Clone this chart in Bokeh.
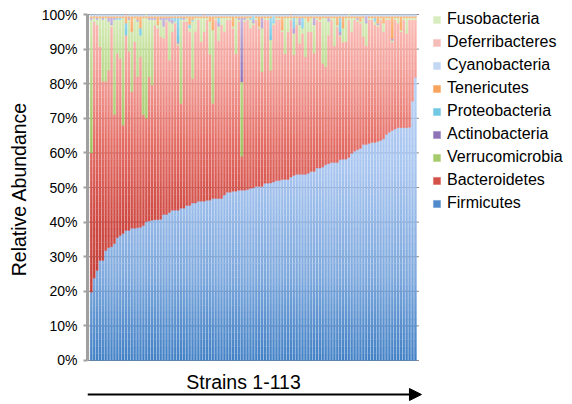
import numpy as np
from bokeh.plotting import figure
from bokeh.layouts import column
from bokeh.models import (ColumnDataSource, Legend, LegendItem, FixedTicker,
                          PrintfTickFormatter, Arrow, NormalHead, Label, Range1d)
from bokeh.embed import file_html
from bokeh.resources import INLINE

strains = list(range(1, 114))

firmicutes = [19.7, 23.8, 26.0, 28.9, 28.9, 31.8, 32.6, 32.9, 33.8, 35.5,
              36.1, 36.7, 37.6, 37.6, 38.2, 38.2, 38.4, 38.5, 39.0, 40.1,
              40.3, 40.5, 40.7, 40.7, 40.8, 42.2, 42.2, 42.8, 43.4, 43.4,
              43.4, 44.0, 44.0, 44.8, 44.8, 45.5, 45.5, 46.0, 46.0, 46.0,
              46.3, 46.3, 46.8, 46.8, 46.8, 46.8, 47.8, 48.6, 48.6, 48.9,
              48.9, 49.2, 49.2, 49.2, 49.4, 49.7, 49.9, 50.3, 50.3, 50.3,
              51.2, 51.2, 51.3, 51.6, 52.0, 52.0, 52.3, 52.3, 52.3, 53.0,
              53.5, 53.8, 53.8, 53.8, 53.8, 54.1, 54.6, 54.6, 55.6, 55.6,
              55.9, 56.6, 56.9, 57.2, 57.2, 57.2, 58.0, 58.2, 58.2, 58.7,
              59.9, 60.5, 60.9, 61.3, 62.4, 62.4, 62.7, 63.0, 63.0, 63.3,
              63.6, 64.1, 65.3, 66.0, 66.5, 66.9, 67.3, 67.3, 67.3, 67.3,
              67.4, 74.9, 81.8]

bacteroidetes = [40.3, 74.2, 71.0, 61.8, 51.8, 48.9, 51.3, 63.6, 37.3, 53.2,
                 51.2, 31.3, 56.4, 51.8, 39.5, 53.9, 43.6, 49.3, 32.0, 29.9,
                 41.7, 39.1, 56.2, 55.3, 52.8, 50.9, 55.8, 44.0, 51.6, 54.1,
                 47.7, 30.3, 54.0, 53.2, 50.3, 36.0, 49.6, 52.5, 46.1, 49.0,
                 52.2, 42.2, 27.5, 51.7, 45.7, 50.2, 47.2, 49.9, 49.9, 47.1,
                 39.7, 48.8, 9.8, 48.8, 49.1, 46.3, 47.1, 48.2, 45.7, 33.1,
                 47.3, 47.3, 32.6, 45.4, 46.5, 46.5, 42.7, 36.3, 42.7, 45.5,
                 34.8, 43.2, 37.8, 40.7, 34.0, 40.9, 40.4, 34.2, 42.9, 42.4,
                 30.0, 28.2, 37.1, 41.3, 33.7, 39.3, 35.5, 33.8, 33.9, 39.8,
                 35.1, 38.0, 37.1, 36.2, 31.2, 28.6, 35.8, 35.5, 34.0, 33.2,
                 34.9, 30.9, 33.2, 32.5, 25.5, 31.6, 30.2, 27.7, 31.2, 27.2,
                 31.1, 23.6, 16.7]

verrucomicrobia = [38.5, 1.0, 1.5, 8.3, 17.8, 18.3, 14.1, 0.5, 27.4, 9.8,
                   11.2, 31.0, 0.0, 9.1, 17.3, 6.9, 16.0, 6.2, 28.0, 29.0,
                   16.5, 18.9, 1.6, 1.0, 4.9, 3.4, 0.5, 11.2, 2.5, 0.5,
                   0.5, 24.2, 0.5, 1.0, 1.0, 16.5, 3.9, 0.5, 6.9, 4.0,
                   0.5, 9.5, 21.2, 0.5, 4.0, 2.0, 4.0, 0.5, 0.5, 0.5,
                   10.4, 0.5, 21.5, 0.5, 0.5, 2.5, 0.5, 0.5, 0.5, 12.6,
                   0.5, 0.5, 8.7, 0.5, 0.5, 0.5, 0.5, 10.4, 4.0, 0.5,
                   6.2, 2.0, 5.4, 1.5, 11.2, 3.0, 4.0, 8.2, 0.5, 0.5,
                   13.1, 14.2, 4.0, 0.5, 8.1, 0.5, 0.5, 4.0, 6.9, 0.5,
                   4.0, 0.5, 0.5, 0.5, 5.4, 6.5, 0.5, 0.5, 1.0, 0.5,
                   0.5, 2.5, 0.5, 0.5, 0.5, 0.5, 1.5, 0.5, 0.5, 4.5,
                   0.5, 0.5, 0.5]

actinobacteria = [0.5, 0.0, 0.5, 0.0, 0.5, 0.0, 1.0, 2.0, 0.5, 0.0,
                  0.0, 0.0, 0.0, 0.5, 0.0, 0.0, 0.5, 0.0, 0.0, 0.0,
                  0.5, 0.5, 0.5, 0.0, 0.5, 2.5, 0.5, 1.0, 1.0, 0.0,
                  0.4, 0.0, 0.5, 0.0, 0.0, 0.0, 0.0, 0.0, 0.0, 0.0,
                  0.0, 0.0, 0.0, 0.0, 1.0, 0.0, 0.0, 0.0, 0.0, 0.0,
                  0.0, 0.5, 18.5, 0.5, 0.0, 0.0, 1.0, 0.0, 0.0, 3.0,
                  0.0, 0.0, 0.0, 0.0, 0.0, 0.0, 0.0, 0.0, 0.0, 0.0,
                  1.5, 0.0, 2.0, 0.0, 0.0, 0.0, 0.0, 2.0, 0.0, 0.0,
                  0.0, 0.0, 1.0, 0.0, 0.0, 0.0, 1.0, 0.0, 0.0, 0.0,
                  0.0, 0.0, 0.5, 0.0, 0.0, 2.0, 0.0, 0.0, 0.0, 0.5,
                  0.0, 0.0, 0.0, 0.0, 0.5, 0.0, 0.0, 0.0, 0.0, 0.0,
                  0.0, 0.0, 0.0]

proteobacteria = [0.0, 0.0, 0.0, 0.0, 0.0, 0.0, 0.0, 0.0, 0.0, 0.5,
                  0.5, 0.0, 3.5, 0.0, 0.0, 0.0, 0.0, 2.0, 0.0, 0.0,
                  0.0, 0.0, 0.0, 0.0, 0.0, 0.0, 0.0, 0.0, 0.5, 1.0,
                  7.0, 0.5, 0.0, 0.0, 1.0, 0.5, 0.0, 0.0, 0.0, 0.0,
                  0.0, 0.0, 0.0, 0.0, 1.5, 0.0, 0.0, 0.0, 0.0, 0.0,
                  0.0, 0.0, 0.0, 0.0, 0.0, 0.5, 1.0, 0.0, 0.0, 0.0,
                  0.0, 0.0, 6.4, 2.0, 0.0, 0.0, 0.0, 0.0, 0.0, 0.0,
                  3.0, 0.0, 0.0, 3.0, 0.0, 0.0, 0.0, 0.0, 0.0, 0.0,
                  0.0, 0.0, 0.0, 0.0, 0.0, 0.0, 4.0, 0.0, 0.0, 0.0,
                  0.0, 0.0, 0.0, 0.0, 0.0, 0.0, 0.0, 0.0, 1.0, 0.0,
                  0.0, 0.0, 0.0, 0.0, 0.0, 0.0, 0.0, 0.0, 0.0, 0.0,
                  0.0, 0.0, 0.0]

tenericutes = [0.5, 0.5, 0.5, 0.5, 0.5, 0.5, 0.5, 0.5, 0.5, 0.5,
               0.5, 0.5, 2.0, 0.5, 4.5, 0.5, 1.0, 3.5, 0.5, 0.5,
               0.5, 0.5, 0.5, 2.5, 0.5, 0.5, 0.5, 0.5, 0.5, 0.5,
               0.5, 0.5, 0.5, 0.5, 2.4, 1.0, 0.5, 0.5, 0.5, 0.5,
               0.5, 1.5, 4.0, 0.5, 0.5, 0.5, 0.5, 0.5, 0.5, 3.0,
               0.5, 0.5, 0.5, 0.5, 0.5, 0.5, 0.0, 0.5, 3.0, 0.5,
               0.5, 0.5, 0.5, 0.0, 0.5, 0.5, 4.0, 0.5, 0.5, 0.5,
               0.5, 0.5, 0.5, 0.5, 0.5, 1.5, 0.5, 0.5, 0.5, 1.0,
               0.5, 0.5, 0.5, 0.5, 0.5, 2.5, 0.5, 3.5, 0.5, 0.5,
               0.5, 0.5, 0.5, 1.5, 0.5, 0.0, 0.5, 0.5, 0.5, 2.0,
               0.5, 2.0, 0.5, 0.5, 6.5, 0.5, 0.5, 4.0, 0.5, 0.5,
               0.5, 0.5, 0.5]

cyanobacteria = [0.5, 0.5, 0.5, 0.5, 0.5, 0.5, 0.5, 0.5, 0.5, 0.5,
                 0.5, 0.5, 0.3, 0.5, 0.5, 0.5, 0.5, 0.5, 0.5, 0.3,
                 0.5, 0.5, 0.5, 0.5, 0.5, 0.5, 0.5, 0.5, 0.5, 0.5,
                 0.5, 0.5, 0.5, 0.5, 0.5, 0.5, 0.5, 0.5, 0.5, 0.3,
                 0.5, 0.5, 0.5, 0.5, 0.5, 0.5, 0.5, 0.5, 0.5, 0.5,
                 0.5, 0.5, 0.5, 0.5, 0.5, 0.5, 0.5, 0.5, 0.5, 0.5,
                 0.5, 0.5, 0.5, 0.5, 0.5, 0.5, 0.5, 0.5, 0.5, 0.3,
                 0.5, 0.5, 0.5, 0.5, 0.5, 0.5, 0.5, 0.5, 0.5, 0.5,
                 0.5, 0.5, 0.5, 0.5, 0.5, 0.5, 0.5, 0.5, 0.5, 0.3,
                 0.5, 0.5, 0.5, 0.5, 0.5, 0.5, 0.5, 0.5, 0.5, 0.5,
                 0.5, 0.5, 0.5, 0.5, 0.5, 0.5, 0.5, 0.5, 0.5, 0.5,
                 0.5, 0.5, 0.5]

deferribacteres = [0.0, 0.0, 0.0, 0.0, 0.0, 0.0, 0.0, 0.0, 0.0, 0.0,
                   0.0, 0.0, 0.2, 0.0, 0.0, 0.0, 0.0, 0.0, 0.0, 0.0,
                   0.0, 0.0, 0.0, 0.0, 0.0, 0.0, 0.0, 0.0, 0.0, 0.0,
                   0.0, 0.0, 0.0, 0.0, 0.0, 0.0, 0.0, 0.0, 0.0, 0.2,
                   0.0, 0.0, 0.0, 0.0, 0.0, 0.0, 0.0, 0.0, 0.0, 0.0,
                   0.0, 0.0, 0.0, 0.0, 0.0, 0.0, 0.0, 0.0, 0.0, 0.0,
                   0.0, 0.0, 0.0, 0.0, 0.0, 0.0, 0.0, 0.0, 0.0, 0.2,
                   0.0, 0.0, 0.0, 0.0, 0.0, 0.0, 0.0, 0.0, 0.0, 0.0,
                   0.0, 0.0, 0.0, 0.0, 0.0, 0.0, 0.0, 0.0, 0.0, 0.0,
                   0.0, 0.0, 0.0, 0.0, 0.0, 0.0, 0.0, 0.0, 0.0, 0.0,
                   0.0, 0.0, 0.0, 0.0, 0.0, 0.0, 0.0, 0.0, 0.0, 0.0,
                   0.0, 0.0, 0.0]

fusobacteria = [0.0, 0.0, 0.0, 0.0, 0.0, 0.0, 0.0, 0.0, 0.0, 0.0,
                0.0, 0.0, 0.0, 0.0, 0.0, 0.0, 0.0, 0.0, 0.0, 0.2,
                0.0, 0.0, 0.0, 0.0, 0.0, 0.0, 0.0, 0.0, 0.0, 0.0,
                0.0, 0.0, 0.0, 0.0, 0.0, 0.0, 0.0, 0.0, 0.0, 0.0,
                0.0, 0.0, 0.0, 0.0, 0.0, 0.0, 0.0, 0.0, 0.0, 0.0,
                0.0, 0.0, 0.0, 0.0, 0.0, 0.0, 0.0, 0.0, 0.0, 0.0,
                0.0, 0.0, 0.0, 0.0, 0.0, 0.0, 0.0, 0.0, 0.0, 0.0,
                0.0, 0.0, 0.0, 0.0, 0.0, 0.0, 0.0, 0.0, 0.0, 0.0,
                0.0, 0.0, 0.0, 0.0, 0.0, 0.0, 0.0, 0.0, 0.0, 0.2,
                0.0, 0.0, 0.0, 0.0, 0.0, 0.0, 0.0, 0.0, 0.0, 0.0,
                0.0, 0.0, 0.0, 0.0, 0.0, 0.0, 0.0, 0.0, 0.0, 0.0,
                0.0, 0.0, 0.0]

series_names = ["Firmicutes", "Bacteroidetes", "Verrucomicrobia", "Actinobacteria",
                "Proteobacteria", "Tenericutes", "Cyanobacteria", "Deferribacteres",
                "Fusobacteria"]
series_values = [firmicutes, bacteroidetes, verrucomicrobia, actinobacteria,
                 proteobacteria, tenericutes, cyanobacteria, deferribacteres,
                 fusobacteria]
y_ticks = [0, 10, 20, 30, 40, 50, 60, 70, 80, 90, 100]
x_label = "Strains 1-113"

# vertical gradient stops (percent level, colour), light at top like the original
gradients = {
    "Firmicutes": [(0, "#4180c5"), (25, "#7ea9de"), (55, "#a8c5f0"), (100, "#bed6f8")],
    "Bacteroidetes": [(0, "#bb352e"), (25, "#c6403a"), (45, "#d24e47"), (65, "#e6726a"),
                      (85, "#f4a29c"), (100, "#fbbcb7")],
    "Verrucomicrobia": [(0, "#8cb44b"), (60, "#9bc35b"), (75, "#add077"), (90, "#c5e19d"),
                        (100, "#d9edbd")],
    "Actinobacteria": [(0, "#7a5ca8"), (80, "#8c70b6"), (100, "#c6b5de")],
    "Proteobacteria": [(0, "#3fb0d2"), (88, "#4dbad9"), (100, "#a2dcef")],
    "Tenericutes": [(0, "#f38a36"), (90, "#f79a4c"), (100, "#fbbb82")],
    "Cyanobacteria": [(0, "#a9c4eb"), (100, "#c3d7f3")],
    "Deferribacteres": [(0, "#f2a6a2"), (100, "#f6bcb9")],
    "Fusobacteria": [(0, "#cbe6a9"), (100, "#d8edbf")],
}
legend_colors = {
    "Firmicutes": "#5189cc", "Bacteroidetes": "#d6534b", "Verrucomicrobia": "#a6cd6c",
    "Actinobacteria": "#8b70b5", "Proteobacteria": "#4fc0de", "Tenericutes": "#f99e4c",
    "Cyanobacteria": "#a9c4eb", "Deferribacteres": "#f2a8a4", "Fusobacteria": "#d0e8b2",
}


def hex2rgb(h):
    return tuple(int(h[i:i + 2], 16) for i in (1, 3, 5))


def grad_color(stops, y):
    for (y0, c0), (y1, c1) in zip(stops[:-1], stops[1:]):
        if y <= y1:
            t = (y - y0) / (y1 - y0) if y1 > y0 else 0.0
            a, b = hex2rgb(c0), hex2rgb(c1)
            return "#%02x%02x%02x" % tuple(int(round(a[i] + (b[i] - a[i]) * t)) for i in range(3))
    return stops[-1][1]


band = 2.0
edges = np.arange(0, 100 + band, band)
PX_PER_UNIT = 3.46     # vertical pixels per percent
PX_PER_BAR = 2.894     # horizontal pixels per strain

FRAME_W = 485          # frame runs from the y axis to the right edge (legend lives there)
x_lo = -0.3
x_hi = x_lo + FRAME_W / PX_PER_BAR
bars_end = 114.25
y_top = 100 + 4 / PX_PER_UNIT
y_bot = -7 / PX_PER_UNIT
FRAME_H = int(round((y_top - y_bot) * PX_PER_UNIT))

p = figure(frame_width=FRAME_W, frame_height=FRAME_H, min_border_left=87, min_border_top=10,
           min_border_bottom=0, min_border_right=0,
           x_range=Range1d(x_lo, x_hi), y_range=Range1d(y_bot, y_top),
           output_backend="svg", toolbar_location=None)
p.background_fill_color = "white"
p.border_fill_color = "white"
p.outline_line_color = None
p.grid.visible = False
p.xaxis.visible = False

# horizontal grid lines at the tick levels, spanning the bar area only
p.segment(x0=[x_lo] * len(y_ticks), x1=[bars_end] * len(y_ticks), y0=y_ticks, y1=y_ticks,
          line_color="#8c8c8c", line_width=1, level="underlay")

xs_all = np.array(strains, dtype=float)
base = np.zeros(len(strains))
items = []
for name, vals in zip(series_names, series_values):
    vals = np.array(vals, dtype=float)
    bottoms = base.copy()
    tops = base + vals
    xs, bs, ts, cs = [], [], [], []
    for lo, hi in zip(edges[:-1], edges[1:]):
        col = grad_color(gradients[name], (lo + hi) / 2.0)
        b = np.maximum(bottoms, lo)
        t = np.minimum(tops, hi)
        m = t > b + 1e-9
        xs += list(xs_all[m])
        bs += list(b[m])
        ts += list(t[m])
        cs += [col] * int(m.sum())
    src = ColumnDataSource(dict(x=xs, bottom=bs, top=ts, color=cs))
    r = p.vbar(x="x", bottom="bottom", top="top", width=0.76, source=src,
               fill_color="color", line_color="color", line_width=0.3)
    base = tops
    target = np.array(hex2rgb(legend_colors[name]), dtype=float)
    dists = [np.sum((np.array(hex2rgb(c), dtype=float) - target) ** 2) for c in cs]
    idx = int(np.argmin(dists))
    items.append(LegendItem(label=name, renderers=[r], index=idx))

row_h, row_gap = 18, 5
legend_h = 9 * row_h + 8 * row_gap
legend = Legend(items=items[::-1], location=(345, FRAME_H - legend_h),
                glyph_width=9, glyph_height=9, label_standoff=6,
                label_text_font="Liberation Sans", label_text_font_size="16px",
                label_text_color="black", label_height=row_h, spacing=row_gap,
                padding=0, margin=0, border_line_color=None,
                background_fill_alpha=0)
p.add_layout(legend)

yax = p.yaxis[0]
yax.ticker = FixedTicker(ticks=y_ticks)
yax.bounds = (0, 100)
yax.formatter = PrintfTickFormatter(format="%d%%")
yax.major_label_text_font = "Liberation Sans"
yax.major_label_text_font_size = "14px"
yax.major_label_text_color = "black"
yax.major_label_standoff = 6
yax.axis_line_color = "#a0a0a0"
yax.axis_line_width = 3
yax.major_tick_line_color = "#a0a0a0"
yax.major_tick_line_width = 2
yax.major_tick_out = 4
yax.major_tick_in = 0
yax.minor_tick_line_color = None
yax.axis_label = "Relative Abundance"
yax.axis_label_text_font = "Liberation Sans"
yax.axis_label_text_font_size = "19.5px"
yax.axis_label_text_font_style = "normal"
yax.axis_label_text_color = "black"
yax.axis_label_standoff = 9

# lower strip: axis caption and arrow, same horizontal scale as the bars
cap_h = 404 - 10 - FRAME_H
p2 = figure(frame_width=FRAME_W, frame_height=cap_h, min_border_left=87, min_border_top=0,
            min_border_bottom=0, min_border_right=0,
            x_range=Range1d(x_lo, x_hi), y_range=Range1d(0, cap_h),
            output_backend="svg", toolbar_location=None)
p2.axis.visible = False
p2.grid.visible = False
p2.outline_line_color = None
p2.background_fill_color = "white"
p2.border_fill_color = "white"
p2.add_layout(Label(x=53.6, y=cap_h - 14, text=x_label, text_align="center",
                    text_baseline="middle", text_font="Liberation Sans",
                    text_font_size="19.5px", text_color="black"))
p2.add_layout(Arrow(end=NormalHead(size=12, fill_color="black", line_color="black"),
                    x_start=x_lo, y_start=cap_h - 27, x_end=115.1, y_end=cap_h - 27,
                    line_color="black", line_width=2))

layout = column(p, p2, spacing=0)
open("out.html", "w").write(file_html(layout, INLINE))
